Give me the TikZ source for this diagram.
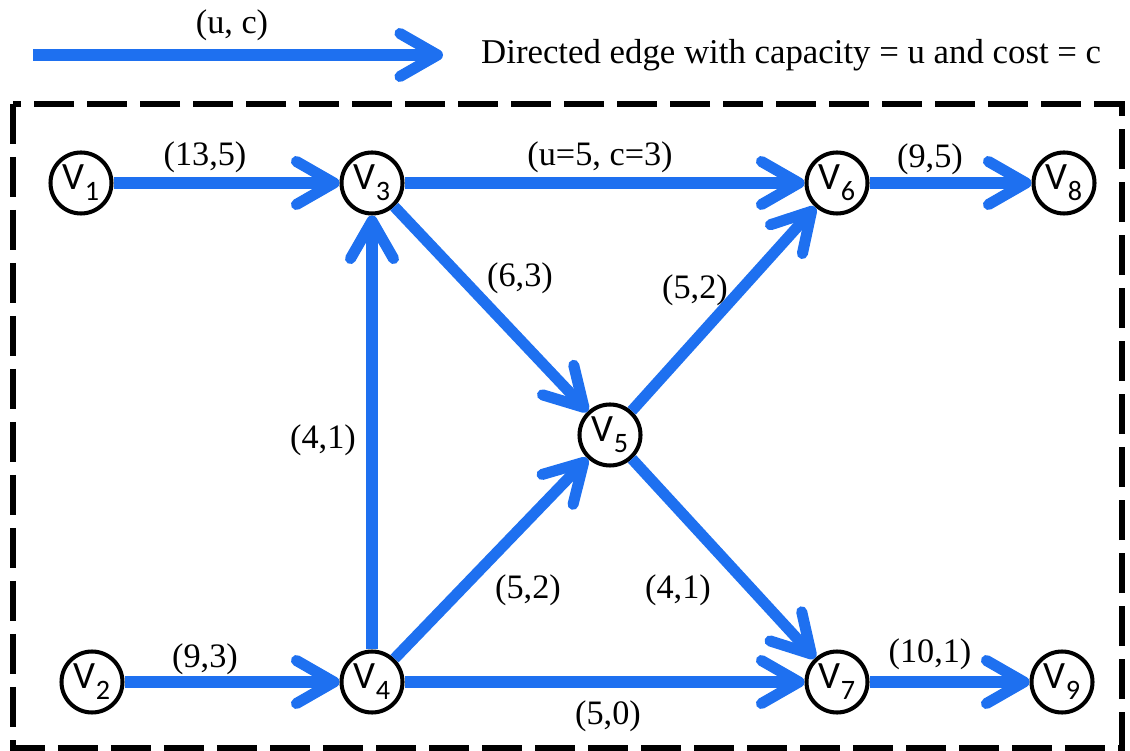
\documentclass[tikz,border=0pt]{standalone}
\usepackage{fontspec}
\setmainfont{Liberation Serif}
\newfontfamily\vfont{Carlito}
\usetikzlibrary{arrows.meta}
\definecolor{flowBlue}{RGB}{30,112,240}
\newcommand{\vlab}[1]{V\raisebox{-0.6ex}{\fontsize{16}{16}\selectfont #1}}
\tikzset{netfig/.style={
  font=\fontsize{19.5}{22}\selectfont,
  vtx/.style={circle, draw, line width=2.3pt, minimum size=1.22cm, inner sep=0pt, font=\vfont\fontsize{22}{24}\selectfont},
  flow/.style={draw=flowBlue, line width=6.3pt, -{Straight Barb[length=7.5mm,width=8.6mm,round]}},
  uclab/.style={font=\fontsize{19.5}{22}\selectfont},
  frame/.style={line width=3.4pt, dash pattern=on 0.8cm off 0.26cm},
}}

\begin{document}
\begin{tikzpicture}[netfig]
\useasboundingbox (0,0) rectangle (22.6,-15.02);

% ---- legend ----
\coordinate (ktail) at (0.66,-1.1);
\coordinate (khead) at (8.86,-1.1);
\draw[flow] (ktail) -- (khead);
\node[uclab] (kuc) at (4.64,-0.5) {(u, c)};
\node[uclab, anchor=west, font=\fontsize{19.8}{22}\selectfont] (ktxt) at (9.5,-1.1) {Directed edge with capacity = u and cost = c};

% ---- dashed frame ----
\draw[frame] (0.26,-2.08) rectangle (22.44,-14.96);

% ---- vertices ----
\node[vtx] (v1) at (1.62,-3.66)  {\vlab{1}};
\node[vtx] (v2) at (1.84,-13.64) {\vlab{2}};
\node[vtx] (v3) at (7.44,-3.66)  {\vlab{3}};
\node[vtx] (v4) at (7.44,-13.64) {\vlab{4}};
\node[vtx] (v5) at (12.2,-8.7)   {\vlab{5}};
\node[vtx] (v6) at (16.74,-3.66) {\vlab{6}};
\node[vtx] (v7) at (16.74,-13.64) {\vlab{7}};
\node[vtx] (v8) at (21.28,-3.66) {\vlab{8}};
\node[vtx] (v9) at (21.24,-13.64) {\vlab{9}};

% ---- edges ----
\draw[flow] (v1) -- (v3);
\draw[flow] (v2) -- (v4);
\draw[flow] (v3) -- (v6);
\draw[flow] (v6) -- (v8);
\draw[flow] (v4) -- (v3);
\draw[flow] (v3) -- (v5);
\draw[flow] (v4) -- (v5);
\draw[flow] (v5) -- (v6);
\draw[flow] (v5) -- (v7);
\draw[flow] (v4) -- (v7);
\draw[flow] (v7) -- (v9);

% ---- edge labels (u,c) ----
\node[uclab] (l13) at (4.1,-3.14)   {(13,5)};
\node[uclab] (l36) at (12.0,-3.14)  {(u=5, c=3)};
\node[uclab] (l68) at (18.6,-3.18)  {(9,5)};
\node[uclab] (l35) at (10.4,-5.56)  {(6,3)};
\node[uclab] (l56) at (13.9,-5.8)   {(5,2)};
\node[uclab] (l43) at (6.46,-8.8)   {(4,1)};
\node[uclab] (l45) at (10.56,-11.8) {(5,2)};
\node[uclab] (l57) at (13.56,-11.8) {(4,1)};
\node[uclab] (l24) at (4.1,-13.18)  {(9,3)};
\node[uclab] (l47) at (12.16,-14.32) {(5,0)};
\node[uclab] (l79) at (18.6,-13.08) {(10,1)};
\end{tikzpicture}
\end{document}
